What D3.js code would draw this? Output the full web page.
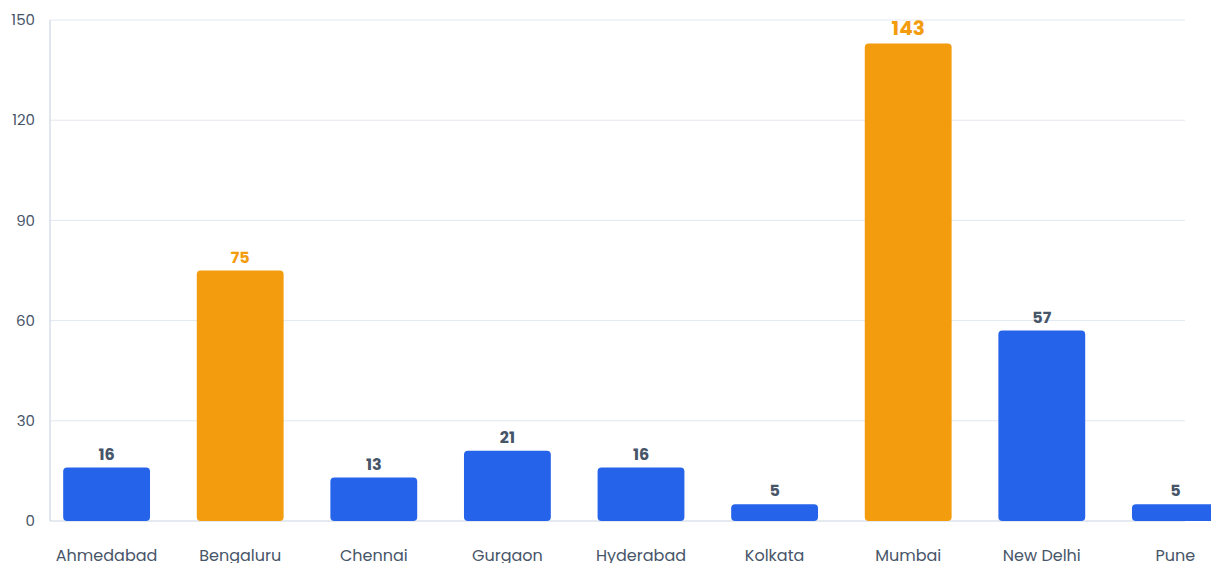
<!DOCTYPE html>
<html lang="en">
<head>
<meta charset="utf-8">
<title>Cities bar chart</title>
<script src="https://d3js.org/d3.v7.min.js"></script>
<style>
  body { margin: 0; background: #fff; overflow: hidden; }
  svg { display: block; font-family: "Poppins", "Inter", "Open Sans", sans-serif; }
</style>
</head>
<body>
<svg id="chart" width="1211" height="563"></svg>
<script>
// data
var cities = ["Ahmedabad", "Bengaluru", "Chennai", "Gurgaon", "Hyderabad", "Kolkata", "Mumbai", "New Delhi", "Pune"]
var counts = [16, 75, 13, 21, 16, 5, 143, 57, 5]
var highlighted = ["Bengaluru", "Mumbai"]
var yTicks = [0, 30, 60, 90, 120, 150]

var blue = "#2563eb"
var orange = "#f39c0e"
var slate = "#475569"

// plot box (note: "top" is reserved on window, so use plot* names)
var plotLeft = 50, plotRight = 1185, plotTop = 20, plotBottom = 521

var svg = d3.select("#chart")

var x = d3.scaleBand()
  .domain(cities)
  .range([39.8, 1242.2])
  .paddingInner(0.35)
  .paddingOuter(0.175)

var y = d3.scaleLinear().domain([0, 150]).range([plotBottom, plotTop])

// grid
svg.append("g")
  .selectAll("line")
  .data(yTicks.filter(d => d > 0))
  .join("line")
  .attr("x1", plotLeft).attr("x2", plotRight)
  .attr("y1", d => y(d)).attr("y2", d => y(d))
  .attr("stroke", "#e2e8f0")
  .attr("stroke-width", 1)

// axis lines
svg.append("line")
  .attr("x1", plotLeft).attr("x2", plotLeft).attr("y1", plotTop).attr("y2", plotBottom)
  .attr("stroke", "#cbd5e1").attr("stroke-width", 1.2)
svg.append("line")
  .attr("x1", plotLeft).attr("x2", plotRight).attr("y1", plotBottom).attr("y2", plotBottom)
  .attr("stroke", "#cbd5e1").attr("stroke-width", 1.2)

// y tick labels
svg.append("g")
  .selectAll("text")
  .data(yTicks)
  .join("text")
  .attr("x", 35)
  .attr("y", d => y(d))
  .attr("dy", "0.35em")
  .attr("text-anchor", "end")
  .attr("font-size", 15)
  .attr("fill", slate)
  .text(d => d)

// bars
svg.append("g")
  .selectAll("rect")
  .data(cities)
  .join("rect")
  .attr("x", d => x(d))
  .attr("width", x.bandwidth())
  .attr("y", (d, i) => y(counts[i]))
  .attr("height", (d, i) => plotBottom - y(counts[i]))
  .attr("rx", 4)
  .attr("fill", d => highlighted.includes(d) ? orange : blue)

// value labels
svg.append("g")
  .selectAll("text")
  .data(cities)
  .join("text")
  .attr("x", d => x(d) + x.bandwidth() / 2)
  .attr("y", (d, i) => y(counts[i]) - 8)
  .attr("text-anchor", "middle")
  .attr("font-weight", 700)
  .attr("font-size", d => d === "Mumbai" ? 20 : 16)
  .attr("fill", d => highlighted.includes(d) ? orange : slate)
  .text((d, i) => counts[i])

// category labels
svg.append("g")
  .selectAll("text")
  .data(cities)
  .join("text")
  .attr("x", d => x(d) + x.bandwidth() / 2)
  .attr("y", 561)
  .attr("text-anchor", "middle")
  .attr("font-size", 16)
  .attr("fill", slate)
  .text(d => d)
</script>
</body>
</html>
